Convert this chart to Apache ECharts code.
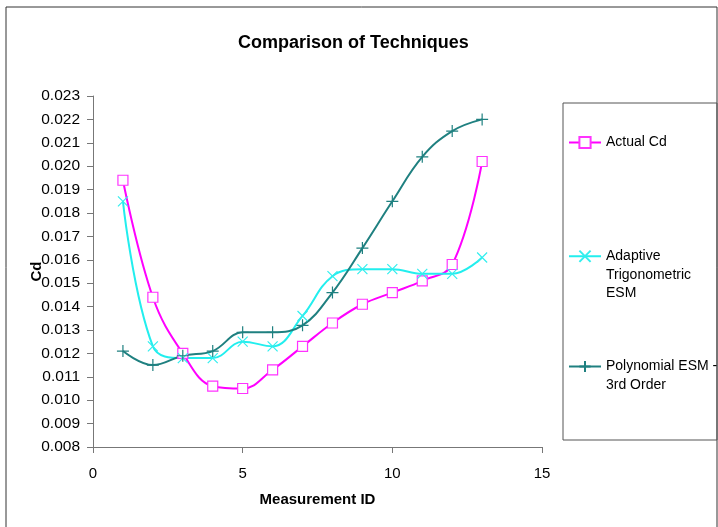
<!DOCTYPE html>
<html>
<head>
<meta charset="utf-8">
<script src="https://cdn.jsdelivr.net/npm/echarts@6/dist/echarts.min.js"></script>
<style>
  html, body { margin: 0; padding: 0; background: #fff; }
  #main { width: 718px; height: 527px; }
</style>
</head>
<body>
<div id="main"></div>
<script>
// measurement ids
const ids = [1, 2, 3, 4, 5, 6, 7, 8, 9, 10, 11, 12, 13];
const actualCd = [0.0194, 0.0144, 0.0120, 0.0106, 0.0105, 0.0113, 0.0123, 0.0133, 0.0141, 0.0146, 0.0151, 0.0158, 0.0202];
const adaptiveTrig = [0.0185, 0.0123, 0.0118, 0.0118, 0.0125, 0.0123, 0.0136, 0.0153, 0.0156, 0.0156, 0.0154, 0.0154, 0.0161];
const polyEsm = [0.0121, 0.0115, 0.0119, 0.0121, 0.0129, 0.0129, 0.0132, 0.0146, 0.0165, 0.0185, 0.0204, 0.0215, 0.0220];

const seriesNames = ['Actual Cd', 'Adaptive\nTrigonometric\nESM', 'Polynomial ESM -\n3rd Order'];

function pairs(vals) {
  return ids.map((x, i) => [x, vals[i]]);
}

const crossX = 'path://M0,0L10,10M10,0L0,10';
const crossPlus = 'path://M5,0L5,10M0,5L10,5';

let myChart = echarts.init(document.getElementById('main'));
let font = 'Liberation Sans, Arial, sans-serif';

// legend icon sits on the middle of the text block, so pad with blank lines
// to keep it level with the first line like in excel
function legendOpt(name, top, padLines, lh) {
  return {
    data: [name], left: 568, top: top, padding: 0,
    itemWidth: 32, itemHeight: 14, itemGap: 0,
    formatter: n => '\n'.repeat(padLines) + n,
    textStyle: { fontFamily: font, fontSize: 14, color: '#000', lineHeight: lh }
  };
}

let option = {
  animation: false,
  title: {
    text: 'Comparison of Techniques',
    left: 233,
    top: 29,
    textStyle: { fontFamily: font, fontSize: 18, fontWeight: 'bold', color: '#000' }
  },
  graphic: [
    {
      type: 'rect',
      shape: { x: 6, y: 7, width: 711, height: 540 },
      style: { fill: 'none', stroke: '#333', lineWidth: 1 },
      silent: true
    },
    {
      type: 'rect',
      shape: { x: 563, y: 103, width: 154, height: 337 },
      style: { fill: 'none', stroke: '#555', lineWidth: 1 },
      silent: true
    }
  ],
  legend: [
    legendOpt(seriesNames[0], 134, 0, 17),
    legendOpt(seriesNames[1], 210, 2, 18.5),
    legendOpt(seriesNames[2], 338, 1, 19)
  ],
  grid: { left: 93, right: 176, top: 96, bottom: 80, containLabel: false },
  xAxis: {
    type: 'value',
    min: 0, max: 15, interval: 5,
    name: 'Measurement ID',
    nameLocation: 'middle',
    nameGap: 45,
    nameTextStyle: { fontFamily: font, fontSize: 15, fontWeight: 'bold', color: '#000' },
    axisLine: { lineStyle: { color: '#777' } },
    axisTick: { length: 6, lineStyle: { color: '#777' } },
    axisLabel: { fontFamily: font, fontSize: 15, color: '#000', margin: 19 },
    splitLine: { show: false }
  },
  yAxis: {
    type: 'value',
    min: 0.008, max: 0.023, interval: 0.001,
    name: 'Cd',
    nameLocation: 'middle',
    nameGap: 49,
    nameMoveOverlap: false,
    nameRotate: 90,
    nameTextStyle: { fontFamily: font, fontSize: 15, fontWeight: 'bold', color: '#000' },
    axisLine: { show: true, lineStyle: { color: '#777' } },
    axisTick: { show: true, length: 6, lineStyle: { color: '#777' } },
    axisLabel: {
      fontFamily: font, fontSize: 15.5, color: '#000', margin: 13,
      formatter: v => v.toFixed(3)
    },
    splitLine: { show: false }
  },
  series: [
    {
      name: seriesNames[0], type: 'line', smooth: 0.4,
      data: pairs(actualCd),
      symbol: 'rect', symbolSize: 10,
      lineStyle: { color: '#ff00ff', width: 2 },
      itemStyle: { color: '#ffffff', borderColor: '#ff33ff', borderWidth: 1.2 }
    },
    {
      name: seriesNames[1], type: 'line', smooth: 0.4,
      data: pairs(adaptiveTrig),
      symbol: crossX, symbolSize: 10,
      lineStyle: { color: '#22eeee', width: 2 },
      itemStyle: { color: 'rgba(0,0,0,0)', borderColor: '#33eeee', borderWidth: 1.2 }
    },
    {
      name: seriesNames[2], type: 'line', smooth: 0.4,
      data: pairs(polyEsm),
      symbol: crossPlus, symbolSize: 12,
      lineStyle: { color: '#1f8080', width: 2 },
      itemStyle: { color: 'rgba(0,0,0,0)', borderColor: '#1f8080', borderWidth: 1.2 }
    }
  ]
};

option && myChart.setOption(option);
</script>
</body>
</html>
